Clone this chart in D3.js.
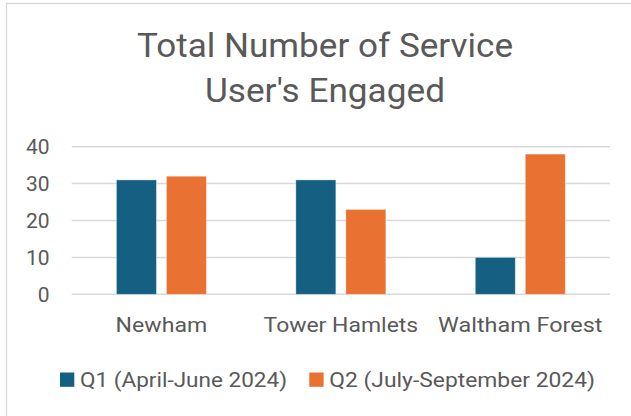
<!DOCTYPE html>
<html><head><meta charset="utf-8">
<script src="https://cdn.jsdelivr.net/npm/d3@7"></script>
<style>body{margin:0;background:#fff}svg{display:block}text{font-family:Roboto,"Liberation Sans",sans-serif;fill:#595959}</style>
</head><body>
<svg id="c" width="631" height="416"></svg>
<script>
const categories = ["Newham", "Tower Hamlets", "Waltham Forest"];
const seriesNames = ["Q1 (April-June 2024)", "Q2 (July-September 2024)"];
const q1Values = [31, 31, 10];
const q2Values = [32, 23, 38];
const yTicks = [0, 10, 20, 30, 40];
const colors = ["#156082", "#E97132"];

const svg = d3.select("#c");
svg.append("rect").attr("x", 6.5).attr("y", 3.5).attr("width", 640).attr("height", 430)
  .attr("fill", "#fff").attr("stroke", "#d9d9d9").attr("stroke-width", 1.3);

function fit(sel, w) {
  sel.each(function(){ const L = this.getComputedTextLength(); if (Math.abs(L - w) > 1) d3.select(this).attr("textLength", w).attr("lengthAdjust", "spacingAndGlyphs"); });
}

// Title
const t1 = svg.append("text").attr("x", 325).attr("y", 56.7).attr("text-anchor", "middle").attr("font-size", 32.5).text("Total Number of Service");
fit(t1, 376);
const t2 = svg.append("text").attr("x", 325).attr("y", 102).attr("text-anchor", "middle").attr("font-size", 32.5).text("User's Engaged");
fit(t2, 240);

const x = d3.scaleBand().domain(categories).range([71.7, 610]);
const y = d3.scaleLinear().domain([0, 40]).range([294.3, 146.7]);
const xi = d3.scaleBand().domain([0, 1]).range([-45, 45]).paddingInner(0.2);

// gridlines
svg.append("g").selectAll("line").data(yTicks).join("line")
  .attr("x1", x.range()[0]).attr("x2", x.range()[1])
  .attr("y1", d => y(d)).attr("y2", d => y(d))
  .attr("stroke", "#d9d9d9").attr("stroke-width", 1.5);

// y labels
svg.append("g").selectAll("text").data(yTicks).join("text")
  .attr("x", 49.5).attr("y", d => y(d)).attr("dy", "0.36em")
  .attr("text-anchor", "end").attr("font-size", 21).text(d => d);

// bars
const series = [q1Values, q2Values];
series.forEach((vals, si) => {
  svg.append("g").selectAll("rect").data(categories).join("rect")
    .attr("x", (c) => x(c) + x.bandwidth() / 2 + xi(si))
    .attr("width", xi.bandwidth())
    .attr("y", (c, i) => y(vals[i]))
    .attr("height", (c, i) => y(0) - y(vals[i]))
    .attr("fill", colors[si])
    .attr("stroke", "rgba(255,255,255,0.45)").attr("stroke-width", 0.8);
});

// category labels
const catW = [91.6, 154.6, 164.3];
svg.append("g").selectAll("text").data(categories).join("text")
  .attr("x", c => x(c) + x.bandwidth() / 2).attr("y", 331.7)
  .attr("text-anchor", "middle").attr("font-size", 20.5).text(c => c)
  .each(function(c, i){ fit(d3.select(this), catW[i]); });

// legend
const legX = [60, 309.3];
const legW = [207, 265.7];
seriesNames.forEach((n, i) => {
  svg.append("rect").attr("x", legX[i]).attr("y", 372.5).attr("width", 14.3).attr("height", 14.3).attr("fill", colors[i]);
  const t = svg.append("text").attr("x", legX[i] + 20).attr("y", 386.7).attr("font-size", 19.5).text(n);
  fit(t, legW[i]);
});
</script>
</body></html>
